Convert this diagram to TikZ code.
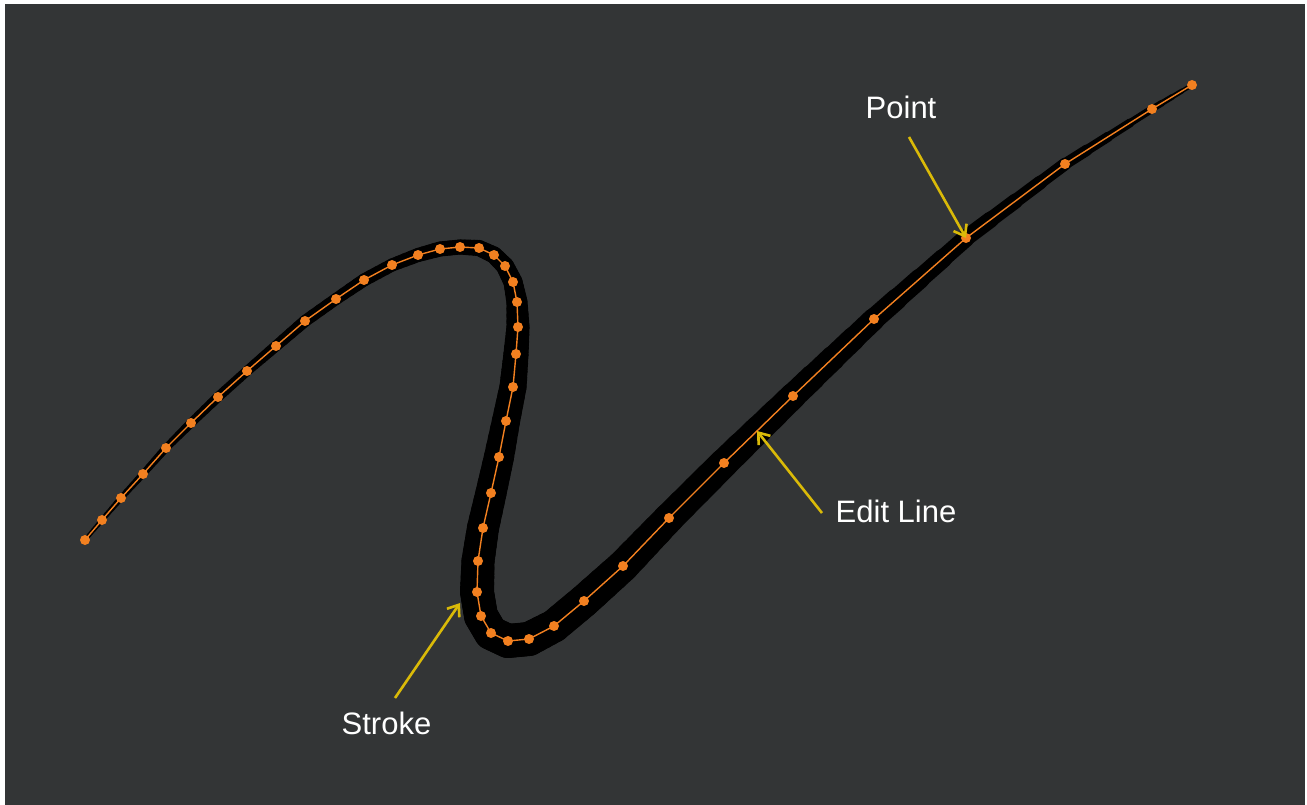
\documentclass[tikz,border=0pt]{standalone}
\usepackage{fontspec}
\setmainfont{Liberation Sans}
\usetikzlibrary{arrows.meta,calc}
\definecolor{canvas}{RGB}{51,53,54}
\definecolor{inkorange}{RGB}{242,128,32}
\definecolor{calloutyellow}{RGB}{218,186,8}

\begin{document}
\begin{tikzpicture}[x=1pt,y=-1pt,
  lbl/.style={text=white, font=\fontsize{31}{36}\selectfont, inner sep=0pt, anchor=base west},
  callout/.style={draw=calloutyellow, line width=2.6pt, -{Straight Barb[length=10pt,width=15pt]}},
  ctrlpt/.style={circle, fill=inkorange, minimum size=10pt, inner sep=0pt},
  editline/.style={draw=inkorange, line width=1.4pt, line join=round}
]
\useasboundingbox (0,0) rectangle (1307,805);
\fill[white] (0,0) rectangle (1307,805);
\fill[canvas] (5,4) rectangle (1305,805);

% control points of the curve, with the stroke width at each
\foreach \x/\y/\w [count=\i from 0] in {
  85/540/4, 102/520/5, 121/498/6, 143/474/7, 166/448/8, 191/423/9,
  218/397/10, 247/371/10, 276/346/11, 305/321/12, 336/299/12, 364/280/13,
  392/265/13, 418/255/14, 440/249/15, 460/247/15, 479/248/16, 494/255/17,
  505/266/18, 513/282/19, 517/302/21, 518/327/23, 516/354/25, 513/387/27,
  506/421/28, 499/457/30, 491/493/31, 483/528/32, 478/561/33, 477/592/34,
  481/616/34, 491/633/34, 508/641/34, 529/639/34, 554/626/33, 584/601/33,
  623/566/32, 669/518/30, 724/463/29, 793/396/26, 874/319/22, 966/238/17,
  1065/164/12, 1152/109/7, 1192/85/4} {
  \coordinate (p\i) at (\x,\y);
  \expandafter\xdef\csname strokew\i\endcsname{\w}
}

% tapered brush stroke: each span split in four with interpolated width
\foreach \i in {0,...,43} {
  \pgfmathtruncatemacro\j{\i+1}
  \edef\wa{\csname strokew\i\endcsname}
  \edef\wb{\csname strokew\j\endcsname}
  \foreach \k in {0,...,3} {
    \pgfmathsetmacro\ta{\k/4}
    \pgfmathsetmacro\tb{(\k+1)/4}
    \pgfmathsetmacro\lw{\wa+(\wb-\wa)*(\k+0.5)/4}
    \draw[black, line width=\lw pt, line cap=round]
      ($(p\i)!\ta!(p\j)$) -- ($(p\i)!\tb!(p\j)$);
  }
}

% edit line through the points
\draw[editline] (p0) \foreach \i in {1,...,44} { -- (p\i) };

% point markers
\foreach \i in {0,...,44} { \node[ctrlpt] (d\i) at (p\i) {}; }

% labels and callouts
\node[lbl] (lblpoint) at (865.5,119) {Point};
\node[lbl] (lbledit) at (835.5,522) {Edit Line};
\node[lbl] (lblstroke) at (341.5,734) {Stroke};

\coordinate (pointtail) at (909,137);
\coordinate (edittail) at (822,513);
\coordinate (edittip) at ($(p38)!0.478!(p39)$);
\coordinate (stroketail) at (395,698);
\coordinate (stroketip) at (460,603);

\draw[callout] (pointtail) -- (p41);
\draw[callout] (edittail) -- (edittip);
\draw[callout] (stroketail) -- (stroketip);
\end{tikzpicture}
\end{document}
